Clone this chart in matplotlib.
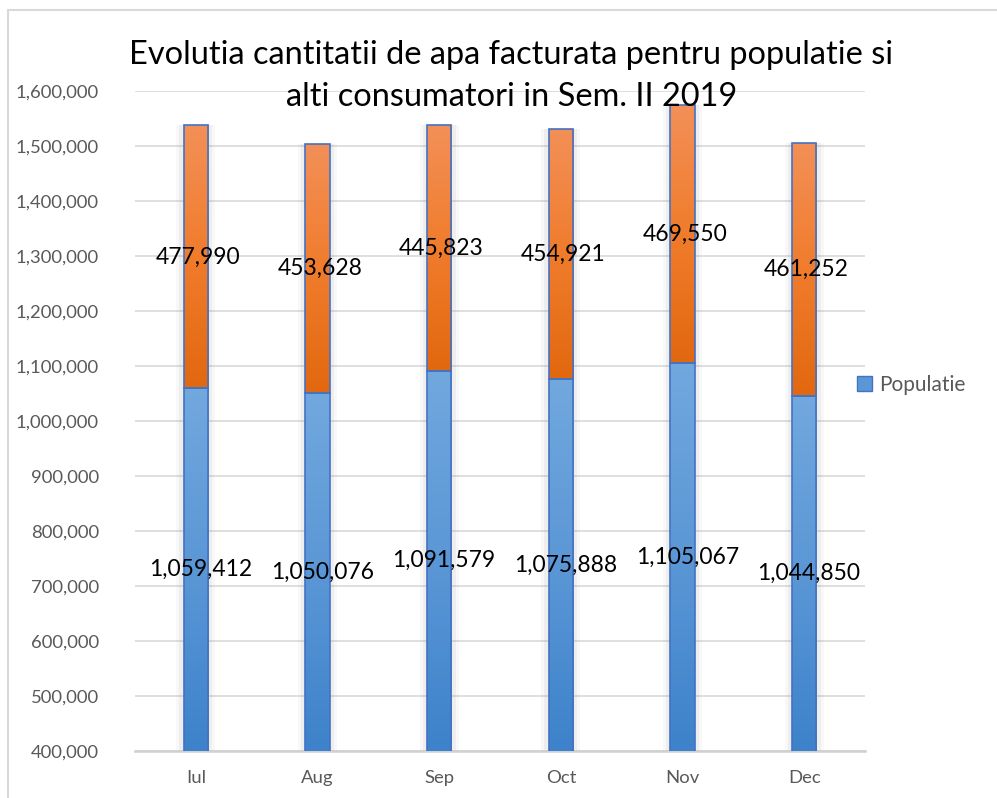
import matplotlib
matplotlib.use("Agg")
import matplotlib.pyplot as plt
import matplotlib.patches as mpatches
from matplotlib.colors import LinearSegmentedColormap
import numpy as np

months = ["Iul", "Aug", "Sep", "Oct", "Nov", "Dec"]
populatie = [1059412, 1050076, 1091579, 1075888, 1105067, 1044850]
alti = [477990, 453628, 445823, 454921, 469550, 461252]
y_ticks = list(range(400000, 1600001, 100000))

plt.rcParams["font.family"] = ["Lato", "DejaVu Sans"]

fig = plt.figure(figsize=(9.97, 7.98), dpi=100)
ax = fig.add_axes([135 / 997, 1 - 751 / 798, 730 / 997, 660 / 798])

# chart border
fig.patches.append(mpatches.Rectangle((8 / 997, -0.05), 1.2, 1.05 - 10 / 798,
                                      transform=fig.transFigure, fill=False,
                                      edgecolor="#D9D9D9", linewidth=1.5))

x = np.arange(len(months))
width = 0.2
ymin, ymax = 400000, 1600000

blue_cmap = LinearSegmentedColormap.from_list("b", ["#3D82CA", "#5B97D6", "#71A8DE"])
orange_cmap = LinearSegmentedColormap.from_list("o", ["#E2680F", "#F07C2C", "#F39058"])

bars_b = ax.bar(x, populatie, width, bottom=0, color="none",
                edgecolor="#4472C4", linewidth=1.2, zorder=4)
bars_o = ax.bar(x, alti, width, bottom=populatie, color="none",
                edgecolor="#4472C4", linewidth=1.2, zorder=4)

grad = np.linspace(0, 1, 256).reshape(-1, 1)
for bars, cmap in ((bars_b, blue_cmap), (bars_o, orange_cmap)):
    for b in bars:
        x0, y0 = b.get_x(), max(b.get_y(), ymin)
        x1, y1 = x0 + b.get_width(), b.get_y() + b.get_height()
        # soft shadow
        for k, a in ((0.06, 0.05), (0.035, 0.08)):
            ax.add_patch(mpatches.Rectangle((x0 - k, y0), (x1 - x0) + 2 * k, y1 - y0,
                                            facecolor="#808080", alpha=a,
                                            edgecolor="none", zorder=2))
        im = ax.imshow(grad, extent=(x0, x1, y0, y1), origin="lower",
                       cmap=cmap, aspect="auto", zorder=3)
        im.set_clip_path(b)

# labels
for i in range(len(months)):
    yb = (ymin + populatie[i]) / 2
    ax.text(x[i] + 0.04, yb, f"{populatie[i]:,}", ha="center", va="center",
            fontsize=16.5, color="black", zorder=6)
    yo = populatie[i] + alti[i] / 2
    ax.text(x[i] + 0.02, yo, f"{alti[i]:,}", ha="center", va="center",
            fontsize=16.5, color="black", zorder=6)

ax.set_xlim(-0.5, len(months) - 0.5)
ax.set_ylim(ymin, ymax)
ax.set_yticks(y_ticks)
ax.set_yticklabels([f"{v:,}" for v in y_ticks])
ax.set_xticks(x)
ax.set_xticklabels(months)
ax.tick_params(axis="both", length=0, colors="#595959", labelsize=13.3)
ax.tick_params(axis="y", pad=26)
ax.tick_params(axis="x", pad=14)
ax.grid(axis="y", color="#D9D9D9", linewidth=1.2, zorder=0)
ax.set_axisbelow(True)
for s in ["top", "right", "left"]:
    ax.spines[s].set_visible(False)
ax.spines["bottom"].set_color("#D0D0D0")
ax.spines["bottom"].set_linewidth(1.8)

fig.text(0.513, 1 - 55 / 798, "Evolutia cantitatii de apa facturata pentru populatie si",
         ha="center", va="center", fontsize=23.4, color="black")
fig.text(0.513, 1 - 97 / 798, "alti consumatori in Sem. II 2019",
         ha="center", va="center", fontsize=23.4, color="black", zorder=10)

handle = mpatches.Patch(facecolor="#5B97D6", edgecolor="#4472C4", label="Populatie")
fig.legend(handles=[handle], loc="center left", bbox_to_anchor=(838 / 997, 1 - 385 / 798),
           frameon=False, fontsize=15, labelcolor="#595959",
           handlelength=0.75, handleheight=0.75, handletextpad=0.3)

fig.savefig("out.png", dpi=100)
